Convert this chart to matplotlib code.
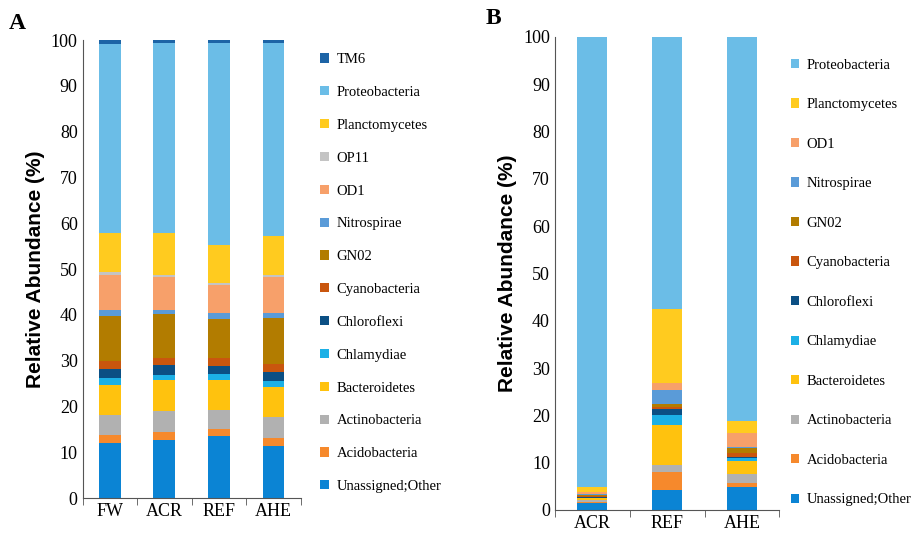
import matplotlib
matplotlib.use("Agg")
import matplotlib.pyplot as plt
import numpy as np

# panel A: cumulative tops (%), bottom layer first
phyla_a = ["Unassigned;Other", "Acidobacteria", "Actinobacteria", "Bacteroidetes",
           "Chlamydiae", "Chloroflexi", "Cyanobacteria", "GN02", "Nitrospirae",
           "OD1", "OP11", "Planctomycetes", "Proteobacteria", "TM6"]
sites_a = ["FW", "ACR", "REF", "AHE"]
cum_a = {
    "FW":  [12.1, 13.9, 18.1, 24.8, 26.3, 28.2, 29.9, 39.8, 41.0, 48.8, 49.4, 57.8, 99.2, 100],
    "ACR": [12.8, 14.5, 19.0, 25.9, 27.0, 29.0, 30.7, 40.1, 41.0, 48.3, 48.8, 57.8, 99.3, 100],
    "REF": [13.6, 15.1, 19.2, 25.7, 27.2, 28.8, 30.7, 39.2, 40.5, 46.5, 47.0, 55.2, 99.3, 100],
    "AHE": [11.4, 13.2, 17.8, 24.3, 25.5, 27.5, 29.4, 39.4, 40.5, 48.3, 48.8, 57.3, 99.3, 100],
}

# panel B
phyla_b = ["Unassigned;Other", "Acidobacteria", "Actinobacteria", "Bacteroidetes",
           "Chlamydiae", "Chloroflexi", "Cyanobacteria", "GN02", "Nitrospirae",
           "OD1", "Planctomycetes", "Proteobacteria"]
sites_b = ["ACR", "REF", "AHE"]
cum_b = {
    "ACR": [1.5, 1.7, 2.2, 2.5, 2.6, 2.7, 3.0, 3.2, 3.3, 3.8, 4.9, 100],
    "REF": [4.2, 8.1, 9.4, 18.0, 20.1, 21.3, 21.8, 22.5, 25.4, 26.8, 42.5, 100],
    "AHE": [4.8, 5.6, 7.5, 10.4, 10.9, 11.3, 12.0, 13.0, 13.4, 16.2, 18.9, 100],
}

colors = {
    "Unassigned;Other": "#0b84d4", "Acidobacteria": "#f6892c", "Actinobacteria": "#b1b1b1",
    "Bacteroidetes": "#ffc20e", "Chlamydiae": "#1cb0e6", "Chloroflexi": "#0b4f84",
    "Cyanobacteria": "#c9560e", "GN02": "#b27c00", "Nitrospirae": "#5a9bd8",
    "OD1": "#f7a06a", "OP11": "#c4c4c4", "Planctomycetes": "#ffcb1f",
    "Proteobacteria": "#6bbde7", "TM6": "#1d64a6",
}

serif = "Liberation Serif"
fig = plt.figure(figsize=(9.17, 5.34), dpi=100)


def panel(rect, sites, phyla, cum, yticks, legend_pos, spacing):
    ax = fig.add_axes(rect)
    x = np.arange(len(sites))
    handles = []
    for i, p in enumerate(phyla):
        tops = np.array([cum[s][i] for s in sites])
        bots = np.array([cum[s][i - 1] if i else 0 for s in sites])
        h = ax.bar(x, tops - bots, bottom=bots, width=0.4, color=colors[p], label=p)
        handles.append(h)
    ax.set_xlim(-0.5, len(sites) - 0.5)
    ax.set_ylim(0, 100)
    ax.set_yticks(yticks)
    ax.set_yticklabels([str(t) for t in yticks], family=serif, fontsize=13)
    ax.set_xticks(x)
    ax.set_xticklabels(sites, family=serif, fontsize=13)
    ax.set_xticks(np.arange(len(sites) + 1) - 0.5, minor=True)
    ax.tick_params(axis="x", which="major", length=0)
    ax.tick_params(axis="x", which="minor", length=5, color="#555555")
    ax.tick_params(axis="y", length=0)
    for s in ["top", "right"]:
        ax.spines[s].set_visible(False)
    for s in ["left", "bottom"]:
        ax.spines[s].set_color("#555555")
    ax.set_ylabel("Relative Abundance (%)", family="Liberation Sans",
                  fontweight="bold", fontsize=15)
    fig.legend(handles[::-1], phyla[::-1], loc="upper left", bbox_to_anchor=legend_pos,
               frameon=False, prop={"family": serif, "size": 10.5}, handlelength=0.6,
               handleheight=0.6, handletextpad=0.5, labelspacing=spacing)
    return ax


axa = panel([0.09, 0.067, 0.238, 0.858], sites_a, phyla_a, cum_a,
            list(range(0, 101, 10)), (0.335, 0.925), 1.36)
axb = panel([0.605, 0.045, 0.245, 0.886], sites_b, phyla_b, cum_b,
            list(range(0, 101, 10)), (0.848, 0.915), 1.82)
fig.text(0.01, 0.945, "A", family=serif, fontweight="bold", fontsize=17)
fig.text(0.53, 0.955, "B", family=serif, fontweight="bold", fontsize=17)

fig.savefig("out.png", dpi=100)
